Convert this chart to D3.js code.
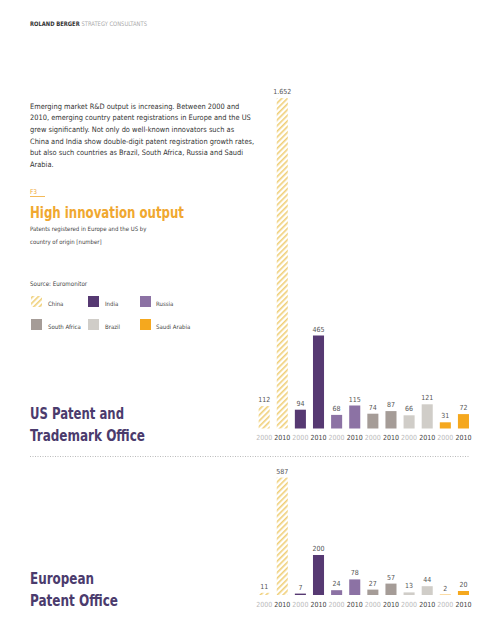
<!DOCTYPE html>
<html><head><meta charset="utf-8">
<script src="https://cdn.jsdelivr.net/npm/d3@7"></script>
<style>body{margin:0;background:#fff}</style>
</head><body>
<script>
const countries = ["China","India","Russia","South Africa","Brazil","Saudi Arabia"];
const years = ["2000","2010"];
const usValues = [112,1652,94,465,68,115,74,87,66,121,31,72];
const euValues = [11,587,7,200,24,78,27,57,13,44,2,20];
const colors = ["hatch","#563972","#8c72a4","#a59c97","#d0cdc8","#f5a81e"];
const paragraph = [
 "Emerging market R&D output is increasing. Between 2000 and",
 "2010, emerging country patent registrations in Europe and the US",
 "grew significantly. Not only do well-known innovators such as",
 "China and India show double-digit patent registration growth rates,",
 "but also such countries as Brazil, South Africa, Russia and Saudi",
 "Arabia."
];
const F = "'DejaVu Sans Condensed','DejaVu Sans',sans-serif";
const W=500,H=638;
const svg=d3.select("body").append("svg").attr("width",W).attr("height",H);
const defs=svg.append("defs");
const pat=defs.append("pattern").attr("id","hatch").attr("patternUnits","userSpaceOnUse")
 .attr("width",4).attr("height",4).attr("patternTransform","rotate(45)");
pat.append("rect").attr("width",4).attr("height",4).attr("fill","#fff");
pat.append("rect").attr("x",0).attr("width",1.6).attr("height",4).attr("fill","#f0cf78");
const fillOf=c=>c==="hatch"?"url(#hatch)":c;

// header
const hd=svg.append("text").attr("x",30).attr("y",26).attr("font-family",F).attr("font-size",6.2)
 .attr("textLength",117).attr("lengthAdjust","spacingAndGlyphs");
hd.append("tspan").attr("font-weight","bold").attr("fill","#333").text("ROLAND BERGER ");
hd.append("tspan").attr("fill","#aaa").text("STRATEGY CONSULTANTS");

// paragraph
paragraph.forEach((l,i)=>svg.append("text").attr("x",30).attr("y",108.5+i*11.7)
 .attr("font-family",F).attr("font-size",7.4).attr("fill","#333").text(l));

svg.append("text").attr("x",30).attr("y",194).attr("font-family",F).attr("font-size",6.5).attr("fill","#f0a830").text("F3");
svg.append("line").attr("x1",30).attr("x2",45).attr("y1",196.5).attr("y2",196.5).attr("stroke","#f0a830").attr("stroke-width",0.8);
svg.append("text").attr("x",30).attr("y",217.5).attr("font-family",F).attr("font-size",16).attr("font-weight","bold").attr("fill","#f0a830")
 .attr("textLength",154).attr("lengthAdjust","spacingAndGlyphs").text("High innovation output");
svg.append("text").attr("x",30).attr("y",230.5).attr("font-family",F).attr("font-size",6).attr("fill","#444").text("Patents registered in Europe and the US by");
svg.append("text").attr("x",30).attr("y",243.5).attr("font-family",F).attr("font-size",6).attr("fill","#444").text("country of origin [number]");
svg.append("text").attr("x",30).attr("y",286).attr("font-family",F).attr("font-size",6.2).attr("fill","#444").text("Source: Euromonitor");

// legend
const lx=[31,88,140], ly=[296,319], tx=[48,105,156];
countries.forEach((c,i)=>{
 const col=i%3,row=Math.floor(i/3);
 svg.append("rect").attr("x",lx[col]).attr("y",ly[row]).attr("width",11).attr("height",11).attr("fill",fillOf(colors[i]));
 svg.append("text").attr("x",tx[col]).attr("y",ly[row]+10).attr("font-family",F).attr("font-size",6).attr("fill","#444").text(c);
});

// section titles
const ttl=(lines,lens,y0)=>lines.forEach((l,i)=>svg.append("text").attr("x",30).attr("y",y0+i*22)
 .attr("font-family",F).attr("font-size",16).attr("font-weight","bold").attr("fill","#4b3b6d")
 .attr("textLength",lens[i]).attr("lengthAdjust","spacingAndGlyphs").text(l));
ttl(["US Patent and","Trademark Office"],[94,115],419);
ttl(["European","Patent Office"],[64,88],584);

svg.append("line").attr("x1",30).attr("x2",470).attr("y1",456.5).attr("y2",456.5)
 .attr("stroke","#aaa").attr("stroke-width",0.8).attr("stroke-dasharray","1,1.5");

// bars
const keys=[];countries.forEach((c,i)=>years.forEach(y=>keys.push({c:i,y})));
const x=d3.scaleBand().domain(d3.range(12)).range([255,472.6]).paddingInner(0.39).paddingOuter(0.2);
const k=0.2;
function chart(vals,base){
 const y=d3.scaleLinear().domain([0,1652]).range([base,base-1652*k]);
 const g=svg.append("g");
 g.selectAll("rect").data(vals).join("rect")
  .attr("x",(d,i)=>x(i)).attr("width",x.bandwidth())
  .attr("y",d=>y(d)).attr("height",d=>base-y(d))
  .attr("fill",(d,i)=>fillOf(colors[keys[i].c]));
 g.selectAll("text.v").data(vals).join("text").attr("class","v")
  .attr("x",(d,i)=>x(i)+x.bandwidth()/2).attr("y",d=>y(d)-4)
  .attr("text-anchor","middle").attr("font-family",F).attr("font-size",7).attr("fill","#555")
  .text(d=>d3.format(",")(d).replace(",","."));
 g.selectAll("text.yr").data(vals).join("text").attr("class","yr")
  .attr("x",(d,i)=>x(i)+x.bandwidth()/2).attr("y",base+11.5)
  .attr("text-anchor","middle").attr("font-family",F).attr("font-size",7)
  .attr("fill",(d,i)=>keys[i].y==="2000"?"#bbb":"#444").text((d,i)=>keys[i].y);
}
chart(usValues,428.5);
chart(euValues,595);
</script>
</body></html>
